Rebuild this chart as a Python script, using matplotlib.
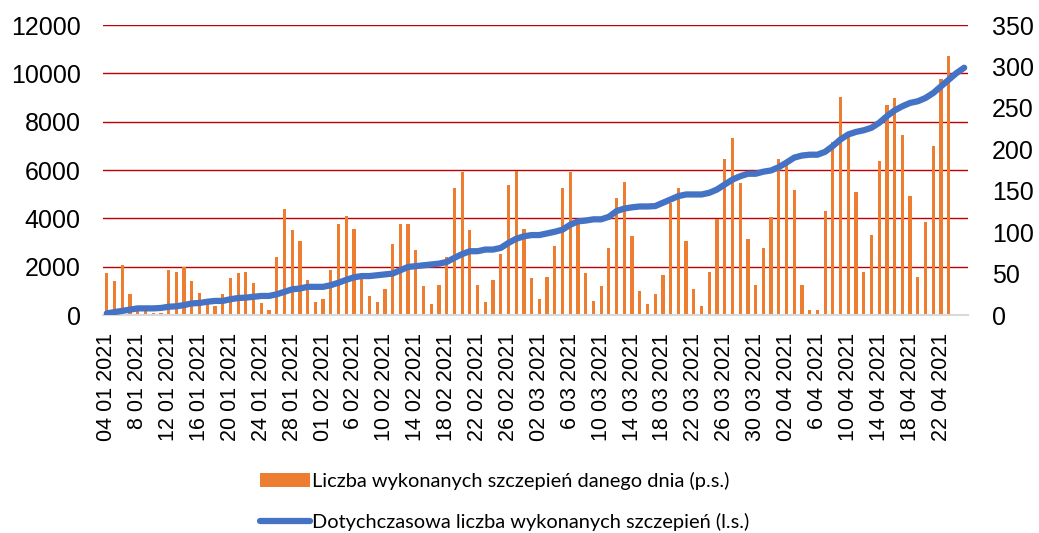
import numpy as np
import matplotlib.pyplot as plt

# daily vaccinations (left scale), one value per category
daily = [1720, 1390, 2060, 860, 300, 300, 100, 100, 1860, 1790,
         2000, 1390, 920, 670, 380, 860, 1530, 1720, 1790, 1330,
         500, 190, 2390, 4390, 3530, 3060, 1460, 530, 670, 1860,
         3780, 4110, 3580, 1720, 790, 530, 1070, 2920, 3780, 3780,
         2670, 1190, 460, 1250, 2390, 5250, 5920, 3530, 1250, 530,
         1460, 2530, 5390, 5970, 3580, 1530, 670, 1580, 2860, 5250,
         5920, 3780, 1720, 600, 1190, 2790, 4850, 5510, 3250, 990,
         460, 860, 1650, 4650, 5250, 3060, 1060, 390, 1790, 3990,
         6440, 7320, 5460, 3130, 1250, 2790, 4060, 6440, 6310, 5180,
         1250, 190, 190, 4320, 7180, 9040, 7390, 5110, 1790, 3320,
         6380, 8710, 8970, 7440, 4920, 1580, 3850, 6990, 9780, 10710,
         np.nan, np.nan]

# cumulative total (right scale)
cumulative = [2, 3.5, 5, 6.5, 8, 8, 8, 8.5, 10, 10.5,
              12, 14, 14.5, 16, 17, 17, 19, 20.5, 21, 22,
              23, 23, 25, 28, 31, 32, 34, 34, 34, 36,
              39, 42.5, 45.5, 47, 47, 48, 49, 50, 54, 58,
              59, 60, 61, 62, 64, 69, 73.5, 77, 77, 79,
              79, 81, 87, 92, 95, 96.5, 96.5, 98.5, 100.5, 103,
              109, 113, 114, 115.5, 115.5, 118.5, 125.5, 128.5, 130, 131,
              131, 131.5, 135.5, 139.5, 143.5, 145.5, 145.5, 145.5, 147.5, 151.5,
              157.5, 163.5, 167.5, 170.5, 170.5, 173, 174.5, 178.5, 184, 190,
              192.5, 193.5, 193.5, 197, 204, 212, 218, 221, 223, 226,
              232, 240, 247, 252, 256, 258, 262, 268, 276, 284,
              292, 298.5]

tick_labels = ["04 01 2021", "8 01 2021", "12 01 2021", "16 01 2021", "20 01 2021",
               "24 01 2021", "28 01 2021", "01 02 2021", "6 02 2021", "10 02 2021",
               "14 02 2021", "18 02 2021", "22 02 2021", "26 02 2021", "02 03 2021",
               "6 03 2021", "10 03 2021", "14 03 2021", "18 03 2021", "22 03 2021",
               "26 03 2021", "30 03 2021", "02 04 2021", "6 04 2021", "10 04 2021",
               "14 04 2021", "18 04 2021", "22 04 2021"]

bar_label = "Liczba wykonanych szczepień danego dnia (p.s.)"
line_label = "Dotychczasowa liczba wykonanych szczepień (l.s.)"

plt.rcParams['font.family'] = ['Liberation Sans', 'DejaVu Sans']

x = np.arange(len(cumulative))

fig = plt.figure(figsize=(10.39, 5.33), dpi=100)
ax = fig.add_axes([0.0991, 0.409, 0.8326, 0.544])
ax2 = ax.twinx()

ax.set_axisbelow(True)
ax.yaxis.grid(True, color='#C00000', linewidth=1.0)
bars = ax.bar(x, daily, width=0.42, color='#ED7D31', zorder=2)
line, = ax2.plot(x, cumulative, color='#4472C4', linewidth=4.5,
                 solid_capstyle='round', solid_joinstyle='round')

ax.set_xlim(-0.5, len(cumulative) - 0.5)
ax.set_ylim(0, 12000)
ax.set_yticks(np.arange(0, 12001, 2000))
ax2.set_ylim(0, 350)
ax2.set_yticks(np.arange(0, 351, 50))

ax.set_xticks(np.arange(0, 4 * len(tick_labels), 4))
ax.set_xticklabels(tick_labels, rotation=90)

for a in (ax, ax2):
    for s in a.spines.values():
        s.set_visible(False)
    a.tick_params(length=0)
ax.spines['bottom'].set_visible(True)
ax.spines['bottom'].set_color('#D9D9D9')
ax.spines['bottom'].set_linewidth(1.5)

ax.tick_params(axis='y', labelsize=18, pad=16)
ax2.tick_params(axis='y', labelsize=18, pad=17)
ax.tick_params(axis='x', labelsize=15.5, pad=13)

fig.legend([bars, line], [bar_label, line_label],
           loc='center left', bbox_to_anchor=(0.2425, 0.06),
           frameon=False, ncol=1, handlelength=2.5, handletextpad=0.1,
           labelspacing=1.15, borderaxespad=0,
           prop={'family': ['Lato', 'DejaVu Sans'], 'size': 14.4})

fig.savefig('out.png', dpi=100)
